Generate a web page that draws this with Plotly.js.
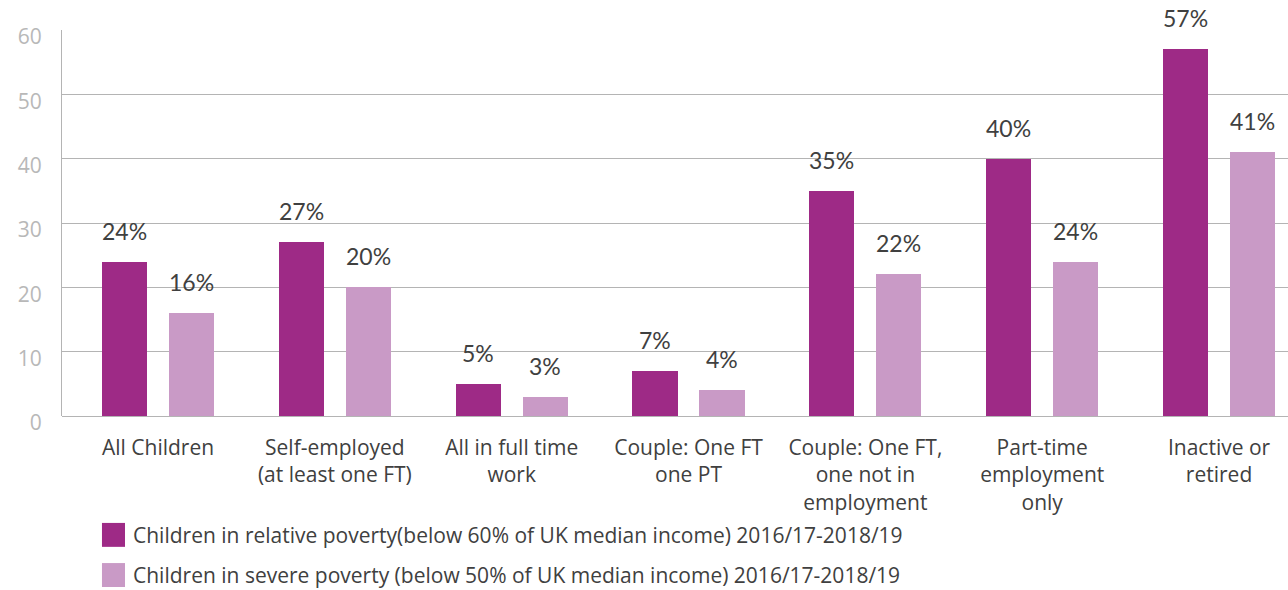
<!DOCTYPE html>
<html>
<head>
<meta charset="utf-8">
<script src="https://cdn.plot.ly/plotly-3.0.1.min.js"></script>
<style>
  html, body { margin: 0; padding: 0; background: #fff; }
  #chart { width: 1288px; height: 590px; }
</style>
</head>
<body>
<div id="chart"></div>
<script>
const categories = [
    'All Children',
    'Self-employed<br>(at least one FT)',
    'All in full time<br>work',
    'Couple: One FT<br>one PT',
    'Couple: One FT,<br>one not in<br>employment',
    'Part-time<br>employment<br>only',
    'Inactive or<br>retired',
];
const relativePoverty = [24, 27, 5, 7, 35, 40, 57];
const severePoverty = [16, 20, 3, 4, 22, 24, 41];
const seriesNames = [
    'Children in relative poverty(below 60% of UK median income) 2016/17-2018/19',
    'Children in severe poverty (below 50% of UK median income) 2016/17-2018/19',
];
const yTicks = [0, 10, 20, 30, 40, 50, 60];

const darkColor = '#9e2a86';
const lightColor = '#c99ac6';
const textColor = '#404040';
const gridColor = '#b4b4b4';
const bodyFont = '"Open Sans", Lato, sans-serif';

const xIdx = categories.map((c, i) => i);
const barWidth = 0.255;
const offsets = [-0.317, 0.062];
const colors = [darkColor, lightColor];
const series = [relativePoverty, severePoverty];

let data = series.map((vals, k) => ({
    type: 'bar',
    x: xIdx,
    y: vals,
    name: seriesNames[k],
    width: barWidth,
    offset: offsets[k],
    marker: { color: colors[k] },
    hoverinfo: 'y',
}));

let annotations = [];
series.forEach((vals, k) => {
    vals.forEach((v, i) => {
        annotations.push({
            x: i + offsets[k] + barWidth / 2, y: v, xref: 'x', yref: 'y',
            text: v + '%', showarrow: false, yanchor: 'bottom', yshift: 15,
            font: { family: 'Lato, sans-serif', size: 23, color: textColor },
        });
    });
});

// legend drawn by hand so the swatches can be as large as in the original
let shapes = [];
seriesNames.forEach((name, k) => {
    const top = -0.277 - k * 0.104;
    shapes.push({
        type: 'rect', xref: 'paper', yref: 'paper',
        x0: 0.0326, x1: 0.0514, y0: top - 0.062, y1: top,
        fillcolor: colors[k], line: { width: 0 },
    });
    annotations.push({
        xref: 'paper', yref: 'paper', x: 0.056, y: top - 0.031,
        xanchor: 'left', yanchor: 'middle', showarrow: false,
        text: name,
        font: { family: bodyFont, size: 21, color: textColor },
    });
});

let layout = {
    width: 1288,
    height: 590,
    margin: { l: 62, r: 0, t: 30, b: 174 },
    paper_bgcolor: '#fff',
    plot_bgcolor: '#fff',
    font: { family: bodyFont, color: textColor },
    showlegend: false,
    xaxis: {
        type: 'linear',
        range: [-0.543, 6.39],
        tickvals: xIdx,
        ticktext: categories,
        ticks: '',
        showgrid: false,
        zeroline: false,
        showline: false,
        tickfont: { size: 21, color: textColor },
        ticklabelstandoff: 17,
        fixedrange: true,
    },
    yaxis: {
        range: [0, 60],
        tickvals: yTicks,
        showgrid: true,
        gridcolor: gridColor,
        gridwidth: 1,
        zeroline: true,
        zerolinecolor: gridColor,
        zerolinewidth: 1,
        showline: true,
        linecolor: gridColor,
        linewidth: 1,
        ticks: '',
        tickfont: { size: 21, color: '#b8b8b8' },
        ticklabelstandoff: 15,
        ticklabelshift: 7,
        fixedrange: true,
    },
    shapes: shapes,
    annotations: annotations,
    bargap: 0,
};

let config = {
    responsive: false,
    displayModeBar: false,
};

Plotly.newPlot('chart', data, layout, config);
</script>
</body>
</html>
